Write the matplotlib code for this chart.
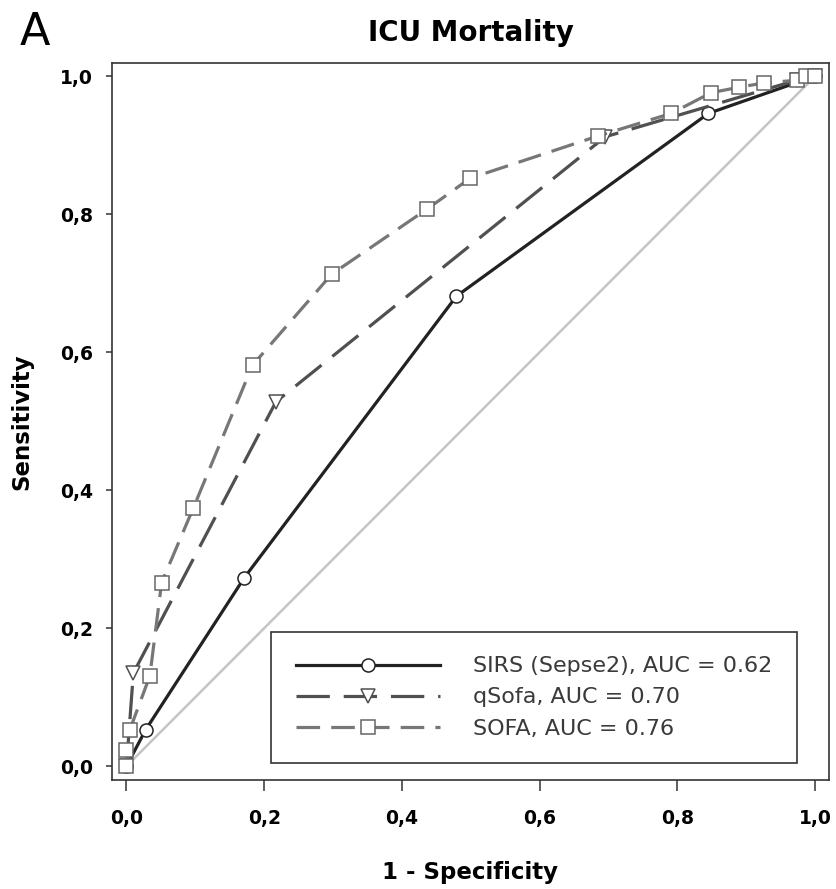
import numpy as np
import matplotlib
matplotlib.use('Agg')
from matplotlib import pyplot as plt
from matplotlib.ticker import FixedLocator, FixedFormatter

# ROC points (1 - specificity, sensitivity)
sirs_fpr = [0.0, 0.028, 0.171, 0.479, 0.845, 1.0]
sirs_tpr = [0.0, 0.053, 0.273, 0.681, 0.946, 1.0]

qsofa_fpr = [0.0, 0.010, 0.217, 0.695, 0.973, 1.0]
qsofa_tpr = [0.0, 0.135, 0.528, 0.912, 0.994, 1.0]

sofa_fpr = [0.0, 0.0, 0.005, 0.034, 0.051, 0.097, 0.183, 0.298, 0.436, 0.499,
            0.684, 0.791, 0.849, 0.890, 0.925, 0.973, 0.986, 1.0]
sofa_tpr = [0.0, 0.023, 0.053, 0.131, 0.266, 0.374, 0.581, 0.713, 0.807, 0.852,
            0.913, 0.946, 0.976, 0.984, 0.990, 0.994, 1.0, 1.0]

diag = [0.0, 1.0]

labels = ['SIRS (Sepse2), AUC = 0.62', 'qSofa, AUC = 0.70', 'SOFA, AUC = 0.76']
ticks = [0.0, 0.2, 0.4, 0.6, 0.8, 1.0]
tick_labels = ['0,0', '0,2', '0,4', '0,6', '0,8', '1,0']

plt.rcParams['font.family'] = ['DejaVu Sans']
plt.rcParams['lines.scale_dashes'] = False

fig = plt.figure(figsize=(8.37, 8.89), dpi=100)
ax = fig.add_axes([112/837, 1-780/889, 717/837, 717/889])

ax.plot(diag, diag, color='#c4c4c4', lw=1.8, zorder=1)
ax.plot(sirs_fpr, sirs_tpr, color='#222222', lw=2.3, marker='o', ms=9.4,
        mfc='white', mec='#222222', mew=1.1, label=labels[0], zorder=3)
ax.plot(qsofa_fpr, qsofa_tpr, color='#505050', lw=2.3, dashes=(24, 10),
        marker='v', ms=10, mfc='white', mec='#505050', mew=1.1,
        label=labels[1], zorder=4)
ax.plot(sofa_fpr, sofa_tpr, color='#777777', lw=2.3, dashes=(17, 8),
        marker='s', ms=9.4, mfc='white', mec='#666666', mew=1.1,
        label=labels[2], zorder=5)

ax.set_xlim(-0.021, 1.020)
ax.set_ylim(-0.020, 1.019)

ax.xaxis.set_major_locator(FixedLocator(ticks))
ax.xaxis.set_major_formatter(FixedFormatter(tick_labels))
ax.yaxis.set_major_locator(FixedLocator(ticks))
ax.yaxis.set_major_formatter(FixedFormatter(tick_labels))

for sp in ax.spines.values():
    sp.set_color('#333333')
    sp.set_linewidth(1.2)
ax.tick_params(axis='x', direction='out', length=8, width=1.1, color='#333333',
               pad=13, labelsize=13.5)
ax.tick_params(axis='y', direction='out', length=4.3, width=1.1, color='#333333',
               pad=9.4, labelsize=13.5)
for t in ax.get_xticklabels() + ax.get_yticklabels():
    t.set_fontweight('bold')

ax.set_title('ICU Mortality', fontsize=20, fontweight='bold', pad=16)
ax.set_xlabel('1 - Specificity', fontsize=16.5, fontweight='bold')
ax.set_ylabel('Sensitivity', fontsize=16.5, fontweight='bold')
ax.xaxis.set_label_coords(0.5, -0.113)
ax.yaxis.set_label_coords(-0.11, 0.5)

fig.text(20/837, 1-45/889, 'A', fontsize=32, va='baseline', ha='left')

leg = ax.legend(loc='lower right', bbox_to_anchor=(0.9554, 0.0237),
                borderaxespad=0, fontsize=16, handlelength=6.5,
                handletextpad=1.5, labelspacing=0.5, borderpad=1.1,
                fancybox=False, framealpha=1, edgecolor='#333333')
leg.get_frame().set_linewidth(1.2)
for t in leg.get_texts():
    t.set_color('#3a3a3a')

fig.savefig('out.png', dpi=100)
